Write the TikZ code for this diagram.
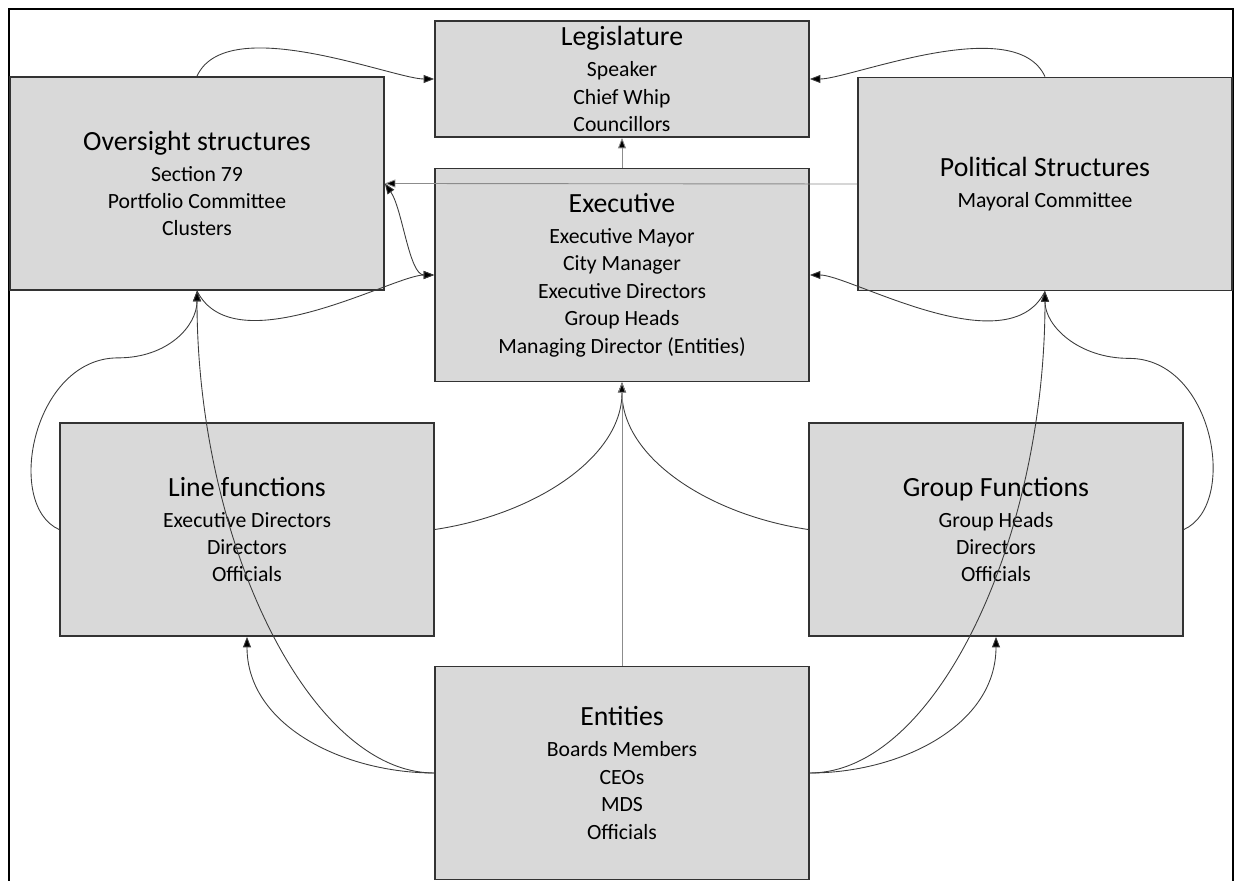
\documentclass[tikz,border=0pt]{standalone}
\usepackage{fontspec}
\setmainfont{Carlito}
\usetikzlibrary{arrows.meta,positioning,calc}
\definecolor{boxgray}{RGB}{217,217,217}
\definecolor{linegray}{RGB}{60,60,60}
\newcommand{\boxhead}[1]{{\fontsize{15.8}{18}\selectfont #1}\\[2pt]}

\begin{document}
\begin{tikzpicture}[
  orgbox/.style={draw=black!80, line width=1pt, fill=boxgray, minimum width=7.48cm, minimum height=4.26cm,
    align=center, inner sep=0pt, font=\fontsize{12.35}{15.6}\selectfont},
  conn/.style={draw=linegray, line width=0.5pt, -{Triangle[length=0.21cm,width=0.16cm,fill=black]}},
  twoway/.style={conn, {Triangle[length=0.21cm,width=0.16cm,fill=black]}-{Triangle[length=0.21cm,width=0.16cm,fill=black]}},
  flatline/.style={conn, draw=black!45}]
  \useasboundingbox (0,0) rectangle (24.7,17.6);

  % Outer frame
  \draw[line width=1pt] (0.18,-0.2) rectangle (24.66,17.42);

  % Boxes
  \node[orgbox, minimum height=2.32cm] (leg) at (12.44,16.02) {\boxhead{Legislature}Speaker\\Chief Whip\\Councillors};
  \node[orgbox] (over) at (3.94,13.93) {\boxhead{Oversight structures}Section 79\\Portfolio Committee\\Clusters};
  \node[orgbox] (exec) at (12.44,12.1) {\boxhead{Executive}Executive Mayor\\City Manager\\Executive Directors\\Group Heads\\Managing Director (Entities)};
  \node[orgbox] (pol) at (20.9,13.92) {\boxhead{Political Structures}Mayoral Committee};
  \node[orgbox] (line) at (4.94,7.01) {\boxhead{Line functions}Executive Directors\\Directors\\Officials};
  \node[orgbox] (group) at (19.92,7.01) {\boxhead{Group Functions}Group Heads\\Directors\\Officials};
  \node[orgbox] (ent) at (12.44,2.14) {\boxhead{Entities}Boards Members\\CEOs\\MDS\\Officials};

  % Into Legislature
  \draw[flatline] (exec.north) -- (leg.south);
  \draw[conn] (over.north) .. controls +(0.6,1.3) and +(-0.8,0) .. (leg.west);
  \draw[conn] (pol.north) .. controls +(-0.6,1.3) and +(0.8,0) .. (leg.east);

  % Oversight and Executive
  \draw[flatline] (pol.west) -- (over.east);
  \draw[twoway] (over.east) .. controls +(0.35,-0.5) and +(-0.5,0) .. (exec.west);
  \draw[conn] (over.south) .. controls +(0.75,-1.5) and +(-0.8,0) .. (exec.west);
  \draw[conn] (pol.south) .. controls +(-0.75,-1.5) and +(0.8,0) .. (exec.east);

  % Functions up to the structures
  \draw[conn] (line.west) .. controls +(-1.1,0.49) and +(-1.7,0) .. ($(over.south)+(-1.58,-1.34)$)
    .. controls +(1.0,0) and +(0,-0.7) .. (over.south);
  \draw[conn] (group.east) .. controls +(1.1,0.49) and +(1.7,0) .. ($(pol.south)+(1.68,-1.34)$)
    .. controls +(-1.0,0) and +(0,-0.7) .. (pol.south);
  \draw[conn] (line.east) .. controls +(2,0.3) and +(0,-1.5) .. (exec.south);
  \draw[conn] (group.west) .. controls +(-2,0.3) and +(0,-1.5) .. (exec.south);

  % From Entities
  \draw[flatline] (ent.north) -- (exec.south);
  \draw[conn] (ent.west) .. controls +(-1.8,0) and +(0,-1.78) .. (line.south);
  \draw[conn] (ent.west) .. controls +(-2.5,0) and +(0,-5) .. (over.south);
  \draw[conn] (ent.east) .. controls +(1.8,0) and +(0,-1.78) .. (group.south);
  \draw[conn] (ent.east) .. controls +(2.5,0) and +(0,-5) .. (pol.south);
\end{tikzpicture}
\end{document}
